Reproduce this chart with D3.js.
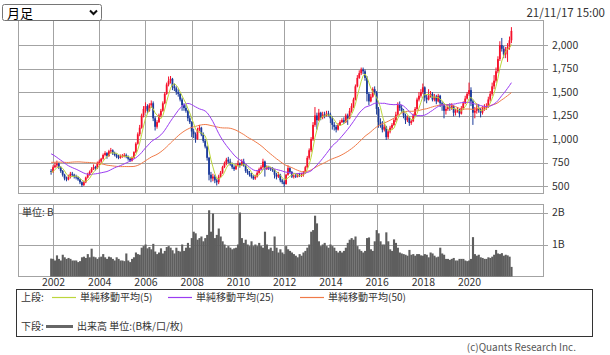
<!DOCTYPE html>
<html><head><meta charset="utf-8">
<script src="https://cdn.jsdelivr.net/npm/d3@7/dist/d3.min.js"></script>
<style>body{margin:0;background:#fff}svg{display:block}text{font-family:"Noto Sans CJK JP","Noto Sans",sans-serif;}</style>
</head><body>
<svg id="chart" width="610" height="355"></svg>
<script>
// monthly closes before the first drawn candle (1997-11 .. 2001-11), used only for moving averages
const priorCloses = [700,680,
 690,700,680,650,630,620,600,560,520,540,560,550,
 560,580,620,660,650,700,760,780,800,850,900,960,
 1050,1100,1080,1020,980,1000,960,920,880,860,820,800,
 820,800,760,800,780,740,700,660,620,640,660];

// drawn months: 2001-12 .. 2021-11
const closes = [650,
 700,720,740,700,660,620,580,570,600,630,620,600,
 590,570,540,510,540,590,620,650,680,700,690,740,
 760,790,830,850,820,870,880,850,830,810,800,820,
 820,830,810,790,770,800,860,950,1050,1120,1250,1320,
 1350,1300,1360,1380,1220,1130,1180,1250,1300,1380,1480,1580,
 1620,1640,1560,1540,1500,1480,1420,1360,1330,1300,1220,1180,
 1080,1050,1000,1100,1120,1050,980,920,800,620,580,600,
 560,540,600,640,700,740,780,760,730,700,680,720,
 740,720,760,720,660,640,620,600,580,600,640,680,
 700,760,680,700,690,680,670,620,600,620,560,540,
 520,620,690,650,600,610,600,620,610,620,640,700,
 800,880,1000,1150,1250,1200,1280,1230,1260,1250,1270,1260,
 1220,1150,1130,1100,1150,1180,1200,1180,1250,1220,1300,1350,
 1420,1560,1650,1700,1740,1720,1650,1480,1400,1450,1530,1500,
 1320,1180,1150,1100,1130,1020,1080,1120,1150,1200,1260,1360,
 1330,1300,1250,1200,1230,1170,1190,1250,1320,1420,1460,1500,
 1550,1440,1420,1460,1480,1420,1450,1400,1460,1380,1360,1300,
 1320,1340,1330,1350,1280,1300,1310,1270,1330,1380,1430,1480,
 1520,1400,1280,1300,1330,1310,1280,1320,1340,1350,1420,1480,
 1560,1620,1720,1850,2000,1960,1900,1950,1980,2050,2150];

const highs = [680,
 720,750,770,750,710,670,630,600,620,650,650,630,
 620,600,580,550,555,600,640,665,700,730,715,760,
 780,800,845,870,860,885,905,890,865,845,830,835,
 840,850,845,825,800,815,870,965,1070,1150,1270,1350,
 1390,1370,1380,1410,1400,1240,1200,1270,1320,1400,1500,1600,
 1665,1670,1650,1590,1560,1530,1500,1440,1380,1360,1310,1250,
 1190,1110,1070,1120,1150,1130,1070,1000,930,810,650,630,
 620,580,620,660,715,760,800,810,790,750,720,740,
 770,750,785,790,730,680,660,640,615,620,660,695,
 720,790,770,720,715,700,700,680,640,650,630,575,
 560,630,720,700,660,625,630,635,640,640,660,715,
 820,900,1020,1180,1340,1280,1320,1290,1290,1290,1300,1300,
 1280,1240,1180,1150,1170,1200,1220,1230,1270,1270,1330,1380,
 1440,1580,1680,1730,1760,1760,1740,1670,1500,1480,1550,1560,
 1510,1340,1220,1190,1160,1140,1100,1140,1170,1220,1290,1390,
 1400,1360,1320,1270,1250,1240,1210,1270,1340,1440,1500,1530,
 1590,1560,1470,1530,1510,1500,1480,1470,1480,1470,1400,1380,
 1350,1370,1380,1380,1360,1320,1340,1320,1350,1400,1460,1500,
 1600,1550,1420,1340,1380,1370,1330,1350,1370,1380,1450,1510,
 1600,1680,1760,1880,2040,2075,1990,1980,2020,2090,2190];

const lows = [620,
 640,690,700,680,640,600,560,550,560,580,600,580,
 570,555,520,490,500,530,580,610,640,670,665,680,
 720,745,780,815,790,810,850,830,815,795,785,790,
 800,805,795,770,755,760,790,850,940,1030,1110,1230,
 1280,1270,1290,1330,1190,1090,1110,1170,1230,1290,1370,1470,
 1560,1590,1520,1510,1470,1450,1400,1300,1300,1280,1190,1160,
 1020,1010,960,990,1080,1030,960,900,770,560,540,550,
 530,505,520,590,630,690,720,740,715,680,660,670,
 710,695,715,705,640,620,600,580,565,565,590,630,
 665,690,600,670,670,660,650,580,570,585,540,520,
 490,515,610,630,585,580,585,590,595,595,600,630,
 690,780,860,980,1130,1100,1190,1200,1210,1220,1240,1240,
 1170,1100,1090,1070,1090,1140,1170,1160,1170,1150,1210,1280,
 1330,1410,1550,1640,1680,1690,1620,1400,1360,1390,1440,1470,
 1260,1120,1120,1070,1080,990,1000,1060,1100,1140,1180,1250,
 1300,1280,1220,1160,1180,1140,1150,1180,1240,1310,1400,1440,
 1480,1400,1380,1410,1440,1400,1400,1370,1390,1340,1300,1220,
 1260,1300,1300,1310,1240,1250,1280,1230,1260,1310,1370,1420,
 1460,1350,1150,1220,1270,1280,1230,1260,1300,1310,1330,1400,
 1460,1530,1600,1700,1830,1930,1860,1860,1820,1950,2020];

// monthly volume, billions
const volumes = [0.56,
 0.55,0.5,0.66,0.55,0.5,0.68,0.6,0.55,0.58,0.55,0.5,0.5,
 0.5,0.45,0.48,0.6,0.62,0.58,0.7,0.6,0.87,0.62,0.6,0.55,
 0.6,0.62,0.7,0.6,0.55,0.62,0.6,0.55,0.5,0.6,0.55,0.5,
 0.5,0.48,0.72,0.5,0.45,0.55,0.6,0.75,0.7,0.68,0.9,0.95,
 1.0,0.88,0.92,0.85,1.02,0.78,0.7,0.75,0.88,0.72,0.8,0.92,
 0.95,0.9,0.82,0.72,0.9,0.8,0.78,1.0,0.8,0.9,1.05,0.9,
 1.2,1.4,1.35,1.15,1.2,1.25,1.1,1.2,1.3,2.07,1.4,1.97,
 1.2,1.3,1.5,1.25,1.1,1.0,0.9,0.95,0.9,0.85,0.88,0.9,
 1.0,2.0,1.2,1.05,1.15,1.0,0.95,1.1,0.95,1.0,0.95,1.05,
 0.95,0.9,1.4,1.0,0.85,0.9,0.8,1.25,0.9,0.75,0.85,0.75,
 0.7,0.95,0.85,0.8,0.75,0.7,0.65,0.6,0.7,0.65,0.75,0.8,
 0.9,1.0,1.4,1.45,1.9,1.66,1.1,0.95,1.0,1.05,0.95,0.9,
 1.0,0.95,0.9,0.8,0.75,0.8,0.75,0.8,0.9,1.05,1.15,1.2,
 1.15,1.25,0.95,0.85,0.8,0.75,0.8,1.2,1.22,0.85,0.8,1.1,
 1.45,1.35,1.1,1.0,1.0,1.38,1.1,0.85,0.8,1.16,1.05,0.9,
 0.75,0.72,0.7,0.68,0.65,0.83,0.68,0.7,0.65,0.7,0.7,0.66,
 0.65,0.7,0.68,0.6,0.75,0.72,0.65,0.6,0.62,0.9,0.72,0.68,
 0.55,0.55,0.52,0.55,0.58,0.5,0.5,0.55,0.55,0.55,0.5,0.48,
 0.5,0.55,1.23,0.7,0.65,0.68,0.6,0.58,0.55,0.55,0.6,0.58,
 0.62,0.68,0.83,0.72,0.7,0.73,0.65,0.68,0.66,0.62,0.3];

const firstYear = 2001, firstMonth = 12;
const yearTicks = [2002,2004,2006,2008,2010,2012,2014,2016,2018,2020];
const priceTicks = [500,750,1000,1250,1500,1750,2000];
const volumeTicks = [1,2];
const maPeriods = [5,25,50];
const maLabels = ["単純移動平均(5)","単純移動平均(25)","単純移動平均(50)"];
const maColors = ["#bcd63c","#9b3cf2","#f07a48"];
const upColor = "#f5102a", downColor = "#1b3a9a";

const svg = d3.select("#chart");
const L = 18, R = 543, mainTop = 20.5, mainBot = 193.5, volTop = 204.5, volBot = 276.5;
const gridColor = "#a3a3a3", textColor = "#333";

const x = d3.scaleLinear().domain([-17.19, 255.4]).range([L, R]);
const y = d3.scaleLinear().domain([500, 2000]).range([186, 45]);
const yv = d3.scaleLinear().domain([0, 2]).range([volBot, 212.5]);
const monthIndex = yr => (yr - firstYear) * 12 + (1 - firstMonth);

const opens = closes.map((c,i) => i === 0 ? priorCloses[priorCloses.length-1] : closes[i-1]);
const allCloses = priorCloses.concat(closes);
const off = priorCloses.length;
const ma = n => closes.map((c,i) => d3.mean(allCloses.slice(off+i-n+1, off+i+1)));

// gridlines / axes - main
const gx = svg.append("g").attr("transform", `translate(0,${mainBot})`)
  .call(d3.axisBottom(x).tickValues(yearTicks.map(monthIndex)).tickSize(-(mainBot-mainTop)).tickFormat(""));
const gy = svg.append("g").attr("transform", `translate(548,0)`)
  .call(d3.axisRight(y).tickValues(priceTicks).tickSize(-(548-L)).tickPadding(4).tickFormat(d3.format(",")));
// volume
const gxv = svg.append("g").attr("transform", `translate(0,${volBot})`)
  .call(d3.axisBottom(x).tickValues(yearTicks.map(monthIndex)).tickSize(-(volBot-volTop)).tickPadding(2).tickFormat((d,i)=>yearTicks[i]));
const gyv = svg.append("g").attr("transform", `translate(548,0)`)
  .call(d3.axisRight(yv).tickValues(volumeTicks).tickSize(-(548-L)).tickPadding(4).tickFormat(d => d + "B"));
[gx,gy,gxv,gyv].forEach(g => {
  g.select(".domain").remove();
  g.selectAll("line").attr("stroke", gridColor).attr("shape-rendering","crispEdges");
  g.selectAll("text").attr("fill", textColor).style("font-size","10.5px").style("font-family",'"Noto Sans CJK JP",sans-serif');
});

// panel borders
svg.append("rect").attr("x",L+0.5).attr("y",mainTop).attr("width",R-L).attr("height",mainBot-mainTop)
  .attr("fill","none").attr("stroke",gridColor).attr("shape-rendering","crispEdges");
svg.append("rect").attr("x",L+0.5).attr("y",volTop).attr("width",R-L).attr("height",volBot-volTop)
  .attr("fill","none").attr("stroke",gridColor).attr("shape-rendering","crispEdges");

// volume bars
const bw = x(1) - x(0);
svg.append("g").selectAll("rect").data(volumes).join("rect")
  .attr("x",(d,i)=>x(i)-bw/2).attr("width",bw+0.2)
  .attr("y",d=>yv(d)).attr("height",d=>yv(0)-yv(d)).attr("fill","#5e5e5e");

svg.append("text").attr("x",22).attr("y",215.5).attr("fill",textColor).style("font-size","10px").text("単位: B");

// candles
const cg = svg.append("g");
closes.forEach((c,i) => {
  const o = opens[i], col = c >= o ? upColor : downColor;
  const hi = Math.max(highs[i], o, c), lo = Math.min(lows[i], o, c);
  cg.append("line").attr("x1",x(i)).attr("x2",x(i)).attr("y1",y(hi)).attr("y2",y(lo)).attr("stroke",col).attr("stroke-width",1);
  cg.append("rect").attr("x",x(i)-0.9).attr("width",1.8)
    .attr("y",y(Math.max(o,c))).attr("height",Math.max(0.8, Math.abs(y(o)-y(c)))).attr("fill",col);
});

// moving averages
const line = d3.line().x((d,i)=>x(i)).y(d=>y(d));
[2,1,0].forEach(k => {
  svg.append("path").datum(ma(maPeriods[k])).attr("d",line).attr("fill","none")
    .attr("stroke",maColors[k]).attr("stroke-width",1);
});

// selector
svg.append("rect").attr("x",2.5).attr("y",4.5).attr("width",99).attr("height",16).attr("rx",2)
  .attr("fill","#fff").attr("stroke","#767676");
svg.append("text").attr("x",7).attr("y",17.5).attr("fill","#000").style("font-size","13px").text("月足");
svg.append("path").attr("d","M90,10.5 L93.5,14 L97,10.5").attr("fill","none").attr("stroke","#111").attr("stroke-width",2);

// timestamp
svg.append("text").attr("x",605).attr("y",17).attr("text-anchor","end").attr("fill",textColor)
  .style("font-size","11.5px").text("21/11/17 15:00");

// legend
svg.append("rect").attr("x",16.5).attr("y",289.5).attr("width",576).attr("height",47)
  .attr("fill","none").attr("stroke","#333");
const lg = svg.append("g").style("font-size","10px").attr("fill",textColor);
lg.append("text").attr("x",21).attr("y",301).text("上段:");
const legX = [52,168,300];
maLabels.forEach((t,k) => {
  lg.append("line").attr("x1",legX[k]).attr("x2",legX[k]+24).attr("y1",297.5).attr("y2",297.5).attr("stroke",maColors[k]).attr("stroke-width",1.2);
  lg.append("text").attr("x",legX[k]+28).attr("y",301).text(t);
});
lg.append("text").attr("x",21).attr("y",330).text("下段:");
lg.append("line").attr("x1",46).attr("x2",73).attr("y1",326.5).attr("y2",326.5).attr("stroke","#666").attr("stroke-width",3);
lg.append("text").attr("x",77).attr("y",330).text("出来高 単位:(B株/口/枚)");

svg.append("text").attr("x",576).attr("y",351).attr("text-anchor","end").attr("fill","#555")
  .style("font-size","10px").text("(c)Quants Research Inc.");
</script>
</body></html>
